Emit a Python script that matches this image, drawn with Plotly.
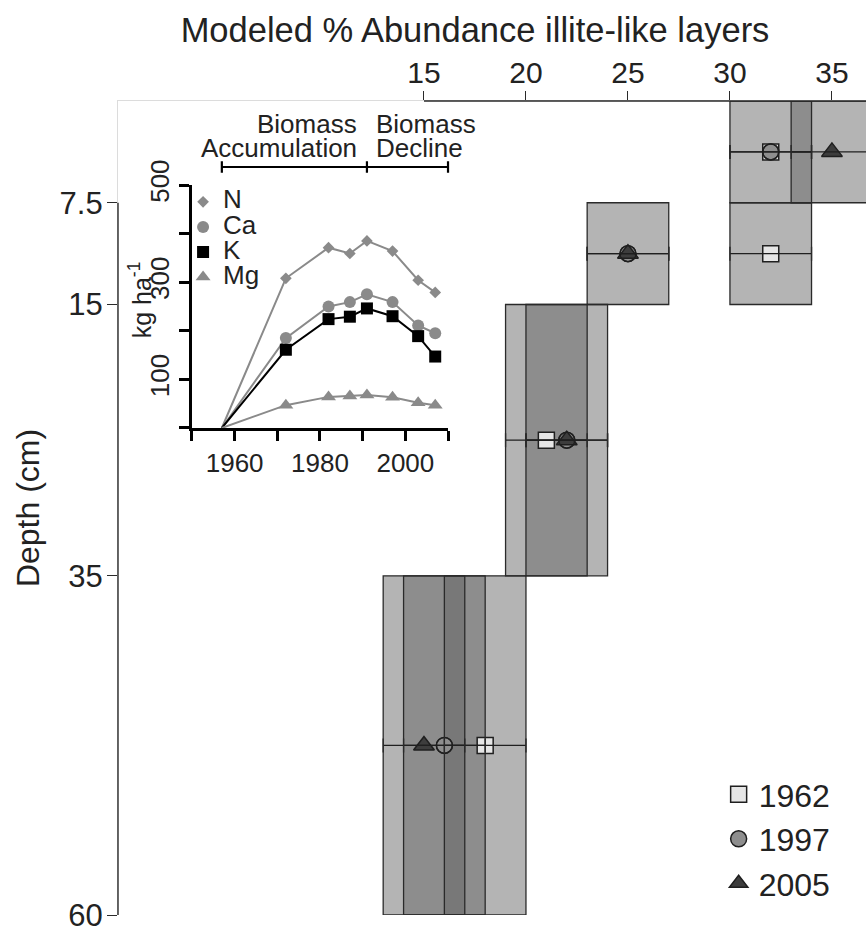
import plotly.graph_objects as go

# ---------------- main chart data ----------------
depth_top = [0, 7.5, 15, 35]
depth_bottom = [7.5, 15, 35, 60]
illite_1962 = [32, 32, 21, 18]
illite_1997 = [32, 25, 22, 16]
illite_2005 = [35, 25, 22, 15]
illite_err = [2, 2, 2, 2]
year_labels = ["1962", "1997", "2005"]
x_tickvals = [15, 20, 25, 30, 35]
depth_tickvals = [7.5, 15, 35, 60]
depth_ticktext = ["7.5", "15", "35", "60"]

# ---------------- inset data ----------------
inset_years = [1957, 1972, 1982, 1987, 1991, 1997, 2003, 2007]
N_kg = [0, 308, 371, 359, 385, 364, 304, 279]
Ca_kg = [0, 185, 250, 259, 275, 259, 211, 195]
K_kg = [0, 161, 224, 229, 246, 230, 189, 147]
Mg_kg = [0, 47, 64, 66, 68, 63, 52, 47]
phase_years = [1957, 1991, 2010]
phase_labels = [["Biomass", "Accumulation"], ["Biomass", "Decline"]]
inset_xtickvals = [1950, 1960, 1970, 1980, 1990, 2000, 2010]
inset_xticktext = ["", "1960", "", "1980", "", "2000", ""]
inset_ytickvals = [0, 100, 200, 300, 400, 500]
inset_yticktext = ["", "100", "", "300", "", "500"]

FONT = "Liberation Sans, Arial, Helvetica, sans-serif"
DARK = "#222222"
XMAX = 36.67

centers = [(a + b) / 2 for a, b in zip(depth_top, depth_bottom)]

fig = go.Figure()

# ---- boxes (distinct ranges per depth interval) ----
shapes = []
for i in range(len(depth_top)):
    ranges = sorted({(v[i] - illite_err[i], v[i] + illite_err[i])
                     for v in (illite_1962, illite_1997, illite_2005)})
    for lo, hi in ranges:
        shapes.append(dict(type="rect", xref="x", yref="y", x0=lo, x1=hi,
                           y0=depth_top[i], y1=depth_bottom[i],
                           fillcolor="rgba(99,99,99,0.48)", line=dict(width=0),
                           layer="below"))
        shapes.append(dict(type="rect", xref="x", yref="y", x0=lo, x1=hi,
                           y0=depth_top[i], y1=depth_bottom[i],
                           fillcolor="rgba(0,0,0,0)",
                           line=dict(color="#2a2a2a", width=1.3), layer="above"))

# dark axis lines over the tick ranges
shapes.append(dict(type="line", xref="paper", yref="paper",
                   x0=x_tickvals[0] / XMAX, x1=1, y0=1, y1=1,
                   line=dict(color="#2a2a2a", width=1.4), layer="above"))
shapes.append(dict(type="line", xref="paper", yref="paper", x0=0, x1=0,
                   y0=0, y1=(depth_tickvals[-1] - depth_tickvals[0]) / depth_tickvals[-1],
                   line=dict(color="#2a2a2a", width=1.4), layer="above"))

# ---- main markers ----
fig.add_trace(go.Scatter(
    x=illite_1962, y=centers, mode="markers", name=year_labels[0],
    marker=dict(symbol="square", size=16, color="#e6e6e6",
                line=dict(color="#1f1f1f", width=1.5)),
    legend="legend", hoverinfo="skip"))
fig.add_trace(go.Scatter(
    x=illite_1997, y=centers, mode="markers", name=year_labels[1],
    marker=dict(symbol="circle", size=16, color="#8e8e8e",
                line=dict(color="#1f1f1f", width=1.5)),
    legend="legend", hoverinfo="skip"))
fig.add_trace(go.Scatter(
    x=illite_2005, y=centers, mode="markers", name=year_labels[2],
    marker=dict(symbol="triangle-up", size=18, color="#3d3d3d",
                line=dict(color="#1f1f1f", width=1.5)),
    legend="legend", hoverinfo="skip"))
fig.add_trace(go.Scatter(
    x=illite_1997, y=centers, mode="markers", showlegend=False,
    marker=dict(symbol="circle-open", size=16, color="#1f1f1f",
                line=dict(width=1.3)),
    hoverinfo="skip"))

# ---- error bars (drawn over markers) ----
all_x = illite_1962 + illite_1997 + illite_2005
all_y = centers * 3
all_e = illite_err * 3
fig.add_trace(go.Scatter(
    x=all_x, y=all_y, mode="markers", showlegend=False, hoverinfo="skip",
    marker=dict(size=2, opacity=0),
    error_x=dict(type="data", array=all_e, color="#1f1f1f",
                 thickness=1.3, width=7)))

# ---- inset ----
GRAY = "#8a8a8a"
inset_series = [
    ("N", N_kg, "diamond", 9, GRAY),
    ("Ca", Ca_kg, "circle", 12, GRAY),
    ("K", K_kg, "square", 12, "#000000"),
    ("Mg", Mg_kg, "triangle-up", 13, GRAY),
]
for name, vals, sym, s, col in inset_series:
    fig.add_trace(go.Scatter(
        x=inset_years, y=vals, mode="lines", xaxis="x2", yaxis="y2",
        line=dict(color=col, width=2), showlegend=False, hoverinfo="skip"))
for name, vals, sym, s, col in inset_series:
    fig.add_trace(go.Scatter(
        x=inset_years[1:], y=vals[1:], mode="markers", xaxis="x2", yaxis="y2",
        name='<span style="font-size:26px">%s</span>' % name,
        marker=dict(symbol=sym, size=s, color=col, line=dict(width=0)),
        legend="legend2", hoverinfo="skip"))

# inset geometry (paper fractions)
x2_dom = [0.0989, 0.4412]
y2_dom = [0.5983, 0.8968]
y3_top = 0.995
x_pad = 0.03
yr_per_paper = (inset_xtickvals[-1] - inset_xtickvals[0]) / (x2_dom[1] - x2_dom[0])
x3_dom = [x2_dom[0] - x_pad, x2_dom[1] + x_pad]
x3_rng = [inset_xtickvals[0] - x_pad * yr_per_paper, inset_xtickvals[-1] + x_pad * yr_per_paper]
y3_rng = [0, inset_ytickvals[-1] * (y3_top - y2_dom[0]) / (y2_dom[1] - y2_dom[0])]

# bracket above inset
BR = 537
BH = 12
bx, by = [], []
for yr in phase_years:
    bx += [yr, yr, None]
    by += [BR - BH, BR + BH, None]
bx += [phase_years[0], phase_years[-1]]
by += [BR, BR]
fig.add_trace(go.Scatter(x=bx, y=by, mode="lines", xaxis="x3", yaxis="y3",
                         line=dict(color="#000000", width=2.2),
                         showlegend=False, hoverinfo="skip"))

annotations = []
line_y = [625, 576]
for j, txt in enumerate(phase_labels[0]):
    annotations.append(dict(text=txt, xref="x3", yref="y3", x=1989.1, y=line_y[j],
                            xanchor="right", yanchor="middle", showarrow=False,
                            font=dict(size=26, color=DARK, family=FONT)))
for j, txt in enumerate(phase_labels[1]):
    annotations.append(dict(text=txt, xref="x3", yref="y3", x=1992.6, y=line_y[j],
                            xanchor="left", yanchor="middle", showarrow=False,
                            font=dict(size=26, color=DARK, family=FONT)))
annotations.append(dict(text="kg ha<sup>-1</sup>", xref="paper", yref="paper",
                        x=0.029, y=0.756, textangle=-90, showarrow=False,
                        xanchor="center", yanchor="middle",
                        font=dict(size=25, color=DARK, family=FONT)))

fig.update_layout(
    width=866, height=927,
    margin=dict(l=118, r=0, t=101, b=12, autoexpand=False),
    paper_bgcolor="white", plot_bgcolor="rgba(0,0,0,0)",
    font=dict(family=FONT, color=DARK),
    title=dict(text="Modeled % Abundance illite-like layers",
               x=475 / 866, xref="container", xanchor="center",
               y=1 - 30 / 927, yref="container", yanchor="middle",
               font=dict(size=34.5, color=DARK, family=FONT)),
    xaxis=dict(domain=[0, 1], range=[0, XMAX], side="top", anchor="y",
               showline=True, linecolor="#dcdcdc", linewidth=1.3,
               tickmode="array", tickvals=x_tickvals,
               ticks="outside", ticklen=9, tickwidth=1.3, tickcolor="#2a2a2a",
               ticklabelstandoff=-4,
               tickfont=dict(size=30, color=DARK), showgrid=False, zeroline=False),
    yaxis=dict(domain=[0, 1], range=[depth_tickvals[-1], 0], anchor="x",
               showline=True, linecolor="#dcdcdc", linewidth=1.3,
               tickmode="array", tickvals=depth_tickvals, ticktext=depth_ticktext,
               ticks="outside", ticklen=10, tickwidth=1.3, tickcolor="#2a2a2a",
               ticklabeloverflow="allow", ticklabelstandoff=-2,
               tickfont=dict(size=31, color=DARK), showgrid=False, zeroline=False,
               title=dict(text="Depth (cm)", font=dict(size=32, color=DARK), standoff=10)),
    xaxis2=dict(domain=x2_dom, range=[inset_xtickvals[0], inset_xtickvals[-1]], anchor="y2",
                showline=True, linecolor="#000000", linewidth=2.5,
                tickmode="array", tickvals=inset_xtickvals, ticktext=inset_xticktext,
                ticks="outside", ticklen=10, tickwidth=2.5, tickcolor="#000000",
                tickfont=dict(size=26, color=DARK), showgrid=False, zeroline=False),
    yaxis2=dict(domain=y2_dom, range=[inset_ytickvals[0], inset_ytickvals[-1]], anchor="x2",
                showline=True, linecolor="#000000", linewidth=2.5,
                tickmode="array", tickvals=inset_ytickvals, ticktext=inset_yticktext,
                tickangle=-90,
                ticks="outside", ticklen=10, tickwidth=2.5, tickcolor="#000000",
                tickfont=dict(size=26, color=DARK), showgrid=False, zeroline=False),
    xaxis3=dict(domain=x3_dom, range=x3_rng, anchor="y3", visible=False),
    yaxis3=dict(domain=[y2_dom[0], y3_top], range=y3_rng, anchor="x3", visible=False),
    legend=dict(x=0.803, y=0.182, xanchor="left", yanchor="top",
                font=dict(size=32, color=DARK), bgcolor="rgba(0,0,0,0)",
                tracegroupgap=0),
    legend2=dict(x=0.087, y=0.8977, xanchor="left", yanchor="top",
                 font=dict(size=17, color=DARK), bgcolor="rgba(0,0,0,0)",
                 tracegroupgap=0),
    shapes=shapes,
    annotations=annotations,
)

fig.write_html("out.html", config={"displayModeBar": False},
               post_script="document.body.style.margin='0';")
